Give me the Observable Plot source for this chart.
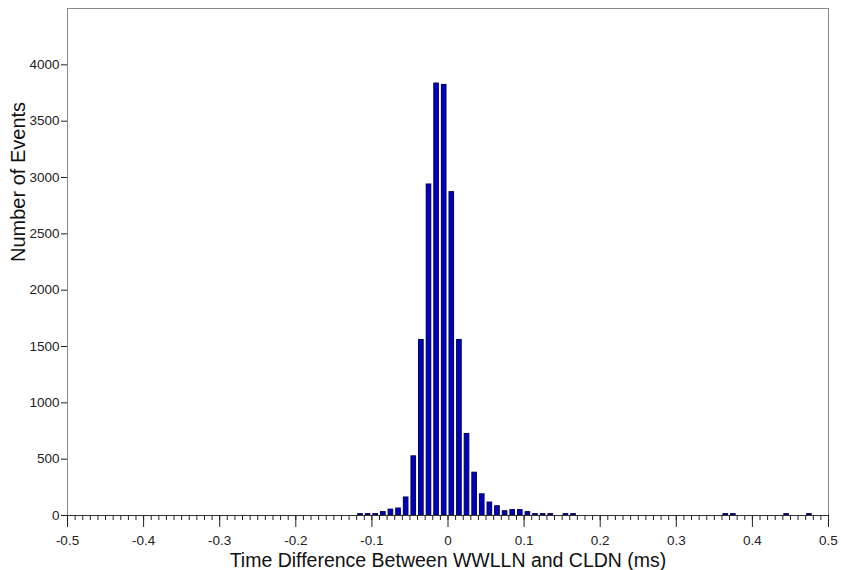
<!DOCTYPE html>
<html><head><meta charset="utf-8">
<script src="https://cdn.jsdelivr.net/npm/d3@7"></script>
<script src="https://cdn.jsdelivr.net/npm/@observablehq/plot@0.6"></script>
<style>body{margin:0;background:#fff} svg{display:block}</style>
</head><body><div id="chart"></div>
<script>
const binCenters = [-0.115, -0.105, -0.095, -0.085, -0.075, -0.065, -0.055, -0.045, -0.035, -0.025, -0.015, -0.005,
  0.005, 0.015, 0.025, 0.035, 0.045, 0.055, 0.065, 0.075, 0.085, 0.095, 0.105, 0.115, 0.125, 0.135, 0.155, 0.165,
  0.365, 0.375, 0.445, 0.475];
const eventCounts = [12, 12, 12, 30, 52, 62, 160, 525, 1558, 2938, 3834, 3822,
  2870, 1558, 724, 380, 188, 115, 82, 38, 48, 48, 30, 12, 12, 12, 12, 12,
  12, 12, 12, 12];
const binWidth = 0.01;
const xTickValues = [-0.5, -0.4, -0.3, -0.2, -0.1, 0, 0.1, 0.2, 0.3, 0.4, 0.5];
const xTickLabels = ["-0.5", "-0.4", "-0.3", "-0.2", "-0.1", "0", "0.1", "0.2", "0.3", "0.4", "0.5"];
const yTickValues = [0, 500, 1000, 1500, 2000, 2500, 3000, 3500, 4000];
const yTickLabels = ["0", "500", "1000", "1500", "2000", "2500", "3000", "3500", "4000"];
const xMinorTicks = d3.range(-50, 51).map(i => i / 100);
const xTitle = "Time Difference Between WWLLN and CLDN (ms)";
const yTitle = "Number of Events";

const data = binCenters.map((c, i) => ({x1: c - binWidth / 2, x2: c + binWidth / 2, count: eventCounts[i]}));

const chart = Plot.plot({
  width: 841, height: 570,
  marginLeft: 67, marginRight: 13, marginTop: 8, marginBottom: 55,
  style: {fontFamily: "'Liberation Sans', Arial, sans-serif", fontSize: "13.5px", color: "#222", background: "#fff"},
  x: {domain: [-0.5, 0.5]},
  y: {domain: [0, 4500]},
  marks: [
    Plot.rectY(data, {x1: "x1", x2: "x2", y: "count", fill: "#0000c0", stroke: "#000050", strokeWidth: 1, insetLeft: 1.5, insetRight: 1.5}),
    Plot.frame({stroke: "#8a8a8a"}),
    Plot.ruleY([0], {stroke: "#333"}),
    Plot.axisY({ticks: yTickValues, tickSize: 6, tickPadding: 2, label: null, fontSize: 13.5,
      tickFormat: d => yTickLabels[yTickValues.indexOf(d)]}),
    Plot.axisX({ticks: xMinorTicks, tickSize: 5, tickFormat: () => "", label: null}),
    Plot.axisX({ticks: xTickValues, tickSize: 12, tickPadding: 8, fontSize: 13.5,
      tickFormat: d => xTickLabels[xTickValues.indexOf(d)], label: null}),
    Plot.text([xTitle], {frameAnchor: "bottom", dy: 51, fontSize: 19.5, fill: "#111"}),
    Plot.text([yTitle], {frameAnchor: "left", dx: -49, rotate: -90, fontSize: 20, fill: "#111"})
  ]
});
document.getElementById("chart").appendChild(chart);
</script>
</body></html>
